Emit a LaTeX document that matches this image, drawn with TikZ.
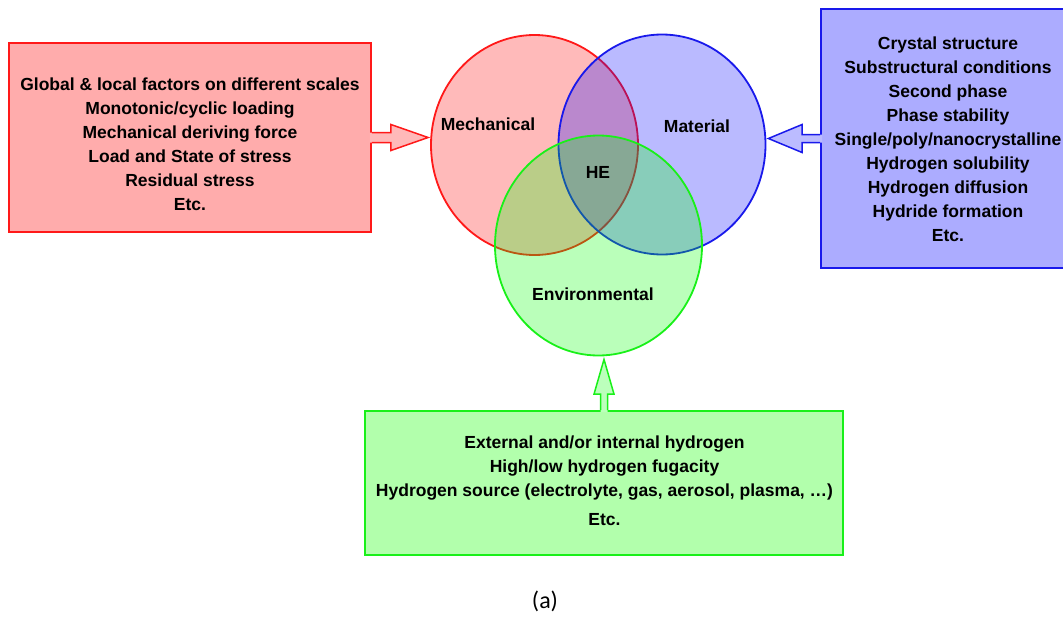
\documentclass[tikz,border=0pt]{standalone}
\usepackage{fontspec}
\setmainfont{Liberation Sans}
\newfontfamily\capfont{Carlito}
\usetikzlibrary{shapes.geometric,calc}
\definecolor{rline}{RGB}{255,25,25}
\definecolor{bline}{RGB}{25,25,235}
\definecolor{gline}{RGB}{25,240,25}
\definecolor{rboxfill}{RGB}{255,172,172}
\definecolor{bboxfill}{RGB}{172,172,255}
\definecolor{gboxfill}{RGB}{178,255,172}
\definecolor{rarrfill}{RGB}{255,185,185}
\definecolor{barrfill}{RGB}{188,188,255}
\definecolor{garrfill}{RGB}{188,255,188}
\tikzset{
  box/.style={rectangle, line width=1.8pt, inner sep=0pt},
  venn/.style={ellipse, inner sep=0pt, minimum width=207pt, minimum height=220pt, line width=1.8pt, fill opacity=0.27},
  txt/.style={font=\bfseries\fontsize{17.5}{24}\selectfont, align=center, inner sep=0pt, text=black},
  lbl/.style={font=\bfseries\fontsize{17.5}{21}\selectfont, inner sep=0pt, text=black},
  arr/.style={line width=1.5pt, line join=miter},
}
\begin{document}
\begin{tikzpicture}[x=1pt,y=-1pt]
\useasboundingbox (0,0) rectangle (1063,616);
\clip (0,0) rectangle (1063,616);
% boxes
\node[box, draw=rline, fill=rboxfill, minimum width=362pt, minimum height=189pt] (rb) at (190,137.5) {};
\node[box, draw=bline, fill=bboxfill, minimum width=254pt, minimum height=259pt] (bb) at (948,138.5) {};
\node[box, draw=gline, fill=gboxfill, minimum width=478pt, minimum height=144pt] (gb) at (604,483) {};
% venn circles
\node[venn, draw=rline, fill=red] (mech) at (534.5,145) {};
\node[venn, draw=bline, fill=blue] (mat) at (662,144.5) {};
\node[venn, draw=gline, fill=green] (env) at (598.5,245.5) {};
% arrows
\fill[rarrfill] ($(rb.east)+(-2,-5)$) -- ++(21,0) -- ++(0,-8) -- ($(rb.east -| mech.west)+(-2,0)$) -- ($(rb.east)+(19,13)$) -- ++(0,-8) -- ($(rb.east)+(-2,5)$) -- cycle;
\draw[arr, draw=rline] ($(rb.east)+(0,-5)$) -- ++(19,0) -- ++(0,-8) -- ($(rb.east -| mech.west)+(-2,0)$) -- ($(rb.east)+(19,13)$) -- ++(0,-8) -- ($(rb.east)+(0,5)$);
\fill[barrfill] ($(bb.west)+(2,-4)$) -- ++(-20,0) -- ++(0,-10) -- ($(bb.west -| mat.east)+(2,0)$) -- ($(bb.west)+(-18,14)$) -- ++(0,-10) -- ($(bb.west)+(2,4)$) -- cycle;
\draw[arr, draw=bline] ($(bb.west)+(0,-4)$) -- ++(-18,0) -- ++(0,-10) -- ($(bb.west -| mat.east)+(2,0)$) -- ($(bb.west)+(-18,14)$) -- ++(0,-10) -- ($(bb.west)+(0,4)$);
\fill[garrfill] ($(gb.north)+(-3.5,2)$) -- ++(0,-18) -- ++(-6.5,0) -- ($(gb.north |- env.south)+(0,3)$) -- ($(gb.north)+(10,-16)$) -- ++(-6.5,0) -- ($(gb.north)+(3.5,2)$) -- cycle;
\draw[arr, draw=gline] ($(gb.north)+(-3.5,0)$) -- ++(0,-16) -- ++(-6.5,0) -- ($(gb.north |- env.south)+(0,3)$) -- ($(gb.north)+(10,-16)$) -- ++(-6.5,0) -- ($(gb.north)+(3.5,0)$);
% texts
\node[txt] (rt) at (190,144.5) {Global \& local factors on different scales\\Monotonic/cyclic loading\\Mechanical deriving force\\Load and State of stress\\Residual stress\\Etc.};
\node[txt] (bt) at (948,139.5) {Crystal structure\\Substructural conditions\\Second phase\\Phase stability\\Single/poly/nanocrystalline\\Hydrogen solubility\\Hydrogen diffusion\\Hydride formation\\Etc.};
\node[txt] (gt) at (604.5,481) {External and/or internal hydrogen\\High/low hydrogen fugacity\\Hydrogen source (electrolyte, gas, aerosol, plasma, \dots)\\[5pt]Etc.};
\node[lbl] (l1) at (488,124) {Mechanical};
\node[lbl] (l2) at (697,126) {Material};
\node[lbl] (l3) at (598,172) {HE};
\node[lbl] (l4) at (593,294) {Environmental};
\node[font=\capfont\fontsize{24}{28}\selectfont, inner sep=0pt] (cap) at (545,601) {(a)};
\end{tikzpicture}
\end{document}
